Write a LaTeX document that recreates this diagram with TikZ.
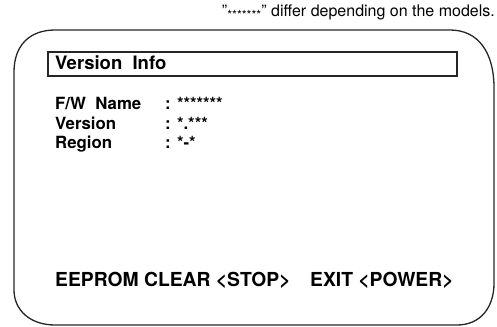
\documentclass[tikz,border=0pt]{standalone}
\usepackage{fontspec}
\setmainfont{TeX Gyre Heros}
\usetikzlibrary{calc}

\begin{document}
\begin{tikzpicture} [x=1pt,y=-1pt,
  lbl/.style={anchor=base west, inner sep=0, font=\fontsize{16.8}{19}\selectfont\bfseries},
  keylbl/.style={anchor=base west, inner sep=0, font=\fontsize{19.3}{21}\selectfont\bfseries}]
\useasboundingbox (0,0) rectangle (497,326);
% screen outline
\draw[black!85, line width=1.3pt] (55,30) -- (450,30) .. controls (478,30) and (494,52) .. (494,88)
  -- (494,283) .. controls (494,308) and (480,325) .. (457,325) -- (55,325)
  .. controls (30,325) and (14,310) .. (14,290) -- (14,72) .. controls (14,45) and (30,30) .. (55,30) -- cycle;
% note on top
\node[anchor=base east, inner sep=0, font=\fontsize{16}{18}\selectfont] (note) at (495,17)
  {"\raisebox{-2.5pt}{\fontsize{12.5}{13}\selectfont*******}" differ depending on the models.};
% title bar
\draw[black!85, line width=1.5pt] (48,52) rectangle (457,76);
\node[lbl, font=\fontsize{18.5}{20}\selectfont\bfseries] (title) at (55,70) {Version\ \ Info};
% info lines
\node[lbl] (fw) at (55,110) {F/W\ \ Name};
\node[lbl] (ver) at (55,129) {Version};
\node[lbl] (reg) at (55,148) {Region};
\node[lbl] (fwv) at (165,110) {: *******};
\node[lbl] (verv) at (165,129) {: *.***};
\node[lbl] (regv) at (165,148) {: *-*};
% keys
\node[keylbl] (clear) at (55,286) {EEPROM CLEAR <STOP>};
\node[keylbl] (exit) at (310,286) {EXIT <POWER>};
\end{tikzpicture}
\end{document}
